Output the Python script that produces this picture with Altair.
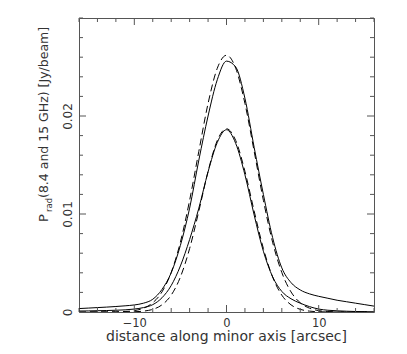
import altair as alt
import pandas as pd

# ---------------- data ----------------
x_vals = list(range(-16, 17))

# solid profile (larger)
s_big = [0.00035, 0.00040, 0.00045, 0.00050, 0.00056, 0.00063, 0.00072, 0.00090,
         0.00130, 0.00230, 0.00400, 0.00680, 0.01060, 0.01550, 0.02000, 0.02370,
         0.02560,
         0.02500, 0.02180, 0.01680, 0.01200, 0.00760, 0.00450, 0.00300, 0.00225,
         0.00185, 0.00160, 0.00140, 0.00120, 0.00105, 0.00090, 0.00075, 0.00060]
# dashed gaussian fit to the larger profile
g_big = [0.0, 0.0, 0.000001, 0.000004, 0.000015, 0.00005, 0.00014, 0.00039,
         0.00094, 0.00205, 0.00403, 0.00713, 0.01140, 0.01640, 0.02128, 0.02487,
         0.02620,
         0.02487, 0.02128, 0.01640, 0.01140, 0.00713, 0.00403, 0.00205, 0.00094,
         0.00039, 0.00014, 0.00005, 0.000015, 0.000004, 0.000001, 0.0, 0.0]
# solid profile (smaller)
s_small = [0.00010, 0.00011, 0.00013, 0.00015, 0.00018, 0.00022, 0.00030, 0.00045,
           0.00075, 0.00145, 0.00270, 0.00470, 0.00740, 0.01060, 0.01430, 0.01730,
           0.01860,
           0.01720, 0.01400, 0.00990, 0.00620, 0.00360, 0.00210, 0.00135, 0.00090,
           0.00055, 0.00030, 0.00018, 0.00012, 0.00008, 0.00005, 0.00004, 0.00003]
# dashed gaussian fit to the smaller profile
g_small = [0.0, 0.0, 0.0, 0.0, 0.000001, 0.000006, 0.000025, 0.00009,
           0.00027, 0.00073, 0.00172, 0.00357, 0.00648, 0.01030, 0.01435, 0.01750,
           0.01870,
           0.01750, 0.01435, 0.01030, 0.00648, 0.00357, 0.00172, 0.00073, 0.00027,
           0.00009, 0.000025, 0.000006, 0.000001, 0.0, 0.0, 0.0, 0.0]

x_major = [-10, 0, 10]
x_minor = [-16, -14, -12, -8, -6, -4, -2, 2, 4, 6, 8, 12, 14, 16]
y_major = [0, 0.01, 0.02]
y_minor = [0.002, 0.004, 0.006, 0.008, 0.012, 0.014, 0.016, 0.018,
           0.022, 0.024, 0.026, 0.028, 0.03]

x_title = "distance along minor axis [arcsec]"
y_title_main = "P"
y_title_sub = "rad"
y_title_rest = "(8.4 and 15 GHz) [Jy/beam]"

# ---------------- build tables ----------------
rows = []
for name, vals, kind in [("s_big", s_big, "solid"), ("g_big", g_big, "dash"),
                         ("s_small", s_small, "solid"), ("g_small", g_small, "dash")]:
    for xv, yv in zip(x_vals, vals):
        rows.append({"x": xv, "y": yv, "series": name, "kind": kind})
df = pd.DataFrame(rows)

W, H = 295, 294
FONT = "DejaVu Sans"
TXT = "#333333"
FRAME = "#555555"

xs = alt.Scale(domain=[-16, 16], nice=False, zero=False)
ys = alt.Scale(domain=[0, 0.03], nice=False, zero=False)

x_axis = alt.Axis(
    values=x_major, format="d", ticks=False, tickSize=0, domain=False, grid=False,
    title=None, labelFont=FONT, labelFontSize=11.5, labelColor=TXT, labelPadding=5)
y_axis = alt.Axis(
    values=y_major, format=".2~f", ticks=False, tickSize=0, domain=False, grid=False,
    title=None, labelAngle=270, labelAlign="center", labelBaseline="alphabetic",
    labelFont=FONT, labelFontSize=12, labelColor=TXT, labelPadding=8)

solid = alt.Chart(df).transform_filter(alt.datum.kind == "solid").mark_line(
    color="black", strokeWidth=1, interpolate="monotone", clip=True
).encode(
    x=alt.X("x:Q", scale=xs, axis=x_axis),
    y=alt.Y("y:Q", scale=ys, axis=y_axis),
    detail="series:N",
)

dashed = alt.Chart(df).transform_filter(alt.datum.kind == "dash").mark_line(
    color="black", strokeWidth=1, strokeDash=[7, 4], interpolate="monotone", clip=True
).encode(
    x=alt.X("x:Q", scale=xs, axis=x_axis),
    y=alt.Y("y:Q", scale=ys, axis=y_axis),
    detail="series:N",
)


def xticks(vals, y0, y1):
    return alt.Chart(pd.DataFrame({"t": vals})).mark_rule(
        color=FRAME, strokeWidth=1).encode(
        x=alt.X("t:Q", scale=xs, axis=x_axis),
        y=alt.value(y0), y2=alt.value(y1))


def yticks(vals, x0, x1):
    return alt.Chart(pd.DataFrame({"t": vals})).mark_rule(
        color=FRAME, strokeWidth=1).encode(
        y=alt.Y("t:Q", scale=ys, axis=y_axis),
        x=alt.value(x0), x2=alt.value(x1))


MAJ, MIN = 7, 4
ticks = [
    xticks(x_major, H, H - MAJ), xticks(x_minor, H, H - MIN),
    xticks(x_major, 0, MAJ), xticks(x_minor, 0, MIN),
    yticks(y_major, 0, MAJ), yticks(y_minor, 0, MIN),
    yticks(y_major, W, W - MAJ), yticks(y_minor, W, W - MIN),
]


def label(text, x, y, size, angle=0, align="left"):
    return alt.Chart(pd.DataFrame({"t": [text]})).mark_text(
        font=FONT, fontSize=size, color=TXT, angle=angle, align=align,
        baseline="alphabetic").encode(
        x=alt.value(x), y=alt.value(y), text="t:N")


texts = [
    label(x_title, W / 2, 323, 14, align="center"),
    label(y_title_main, -31, 204, 13, angle=270),
    label(y_title_sub, -27, 194, 8.5, angle=270),
    label(y_title_rest, -31, 180, 12.5, angle=270),
]

chart = alt.layer(solid, dashed, *ticks, *texts).properties(
    width=W, height=H,
    autosize=alt.AutoSizeParams(type="none"),
    padding={"left": 71, "top": 10, "right": 25, "bottom": 34},
).configure_view(stroke=FRAME, strokeWidth=1)

chart.save("out.html", embed_options={"renderer": "svg", "actions": False})
